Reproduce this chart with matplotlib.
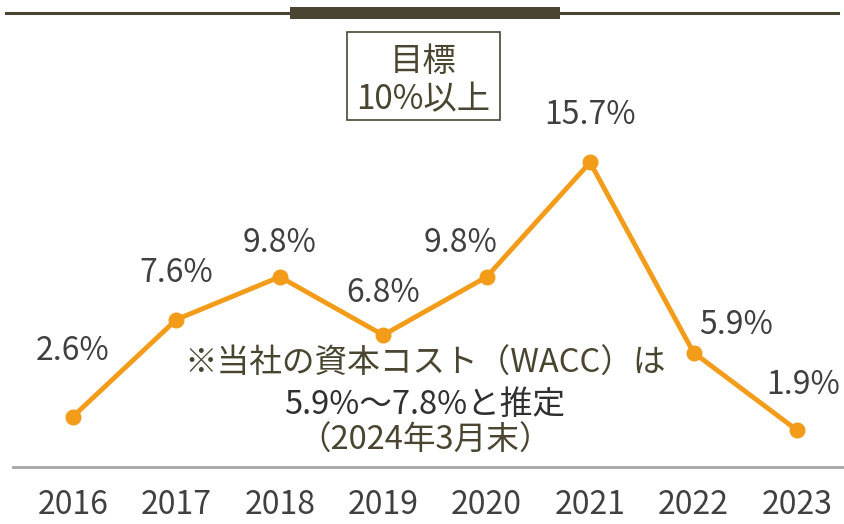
import matplotlib.pyplot as plt
from matplotlib.lines import Line2D
from matplotlib.patches import Rectangle

years = ['2016', '2017', '2018', '2019', '2020', '2021', '2022', '2023']
roe = [2.6, 7.6, 9.8, 6.8, 9.8, 15.7, 5.9, 1.9]
labels = ['2.6%', '7.6%', '9.8%', '6.8%', '9.8%', '15.7%', '5.9%', '1.9%']
# label offsets from each point, in pixels
offsets = [(0, 66), (0, 47), (0, 34), (0, 42), (-26, 34), (0, 47), (43, 28), (6, 45)]

plt.rcParams['font.family'] = ['Noto Sans CJK JP', 'DejaVu Sans']

olive = '#4a4530'
orange = '#f39c1a'

fig = plt.figure(figsize=(8.44, 5.24), dpi=100)
W, H = 844, 524
ax = fig.add_axes([13 / W, (H - 467) / H, (W - 13) / W, 454 / H])

x = list(range(len(years)))
ax.plot(x, roe, color=orange, lw=3.5, marker='o', ms=10.5, zorder=3)
ax.set_xlim(-0.58, 7.455)
ax.set_ylim(0, 23.4)

for i, (v, lab) in enumerate(zip(roe, labels)):
    ax.annotate(lab, (i, v), xytext=offsets[i], textcoords='offset pixels',
                ha='center', va='center', fontsize=23, color='#404040')

for s in ['top', 'right', 'left']:
    ax.spines[s].set_visible(False)
ax.spines['bottom'].set_color('#a6a6a6')
ax.spines['bottom'].set_linewidth(2)
ax.set_yticks([])
ax.set_xticks(x)
ax.set_xticklabels(years, fontsize=23, color='#404040')
ax.tick_params(axis='x', length=0, pad=16)

# target box
fig.add_artist(Rectangle((347 / W, (H - 120) / H), 153 / W, 88 / H,
                         transform=fig.transFigure, fill=False, ec=olive, lw=1.2))
fig.text(423 / W, (H - 62) / H, '目標', ha='center', va='center', fontsize=24, color=olive)
fig.text(423 / W, (H - 100) / H, '10%以上', ha='center', va='center', fontsize=24, color=olive)

# WACC note
fig.text(425 / W, (H - 364) / H, '※当社の資本コスト（WACC）は', ha='center', va='center',
         fontsize=23.5, color=olive)
fig.text(425 / W, (H - 405) / H, '5.9%～7.8%と推定', ha='center', va='center',
         fontsize=23.5, color='#303030')
fig.text(425 / W, (H - 441) / H, '（2024年3月末）', ha='center', va='center',
         fontsize=23.5, color=olive)

# header rule
fig.add_artist(Line2D([6 / W, 838 / W], [(H - 13) / H] * 2, color=olive, lw=2.2))
fig.add_artist(Rectangle((290 / W, (H - 19) / H), 270 / W, 12 / H,
                         transform=fig.transFigure, color=olive, lw=0))

fig.savefig('out.png', dpi=100)
